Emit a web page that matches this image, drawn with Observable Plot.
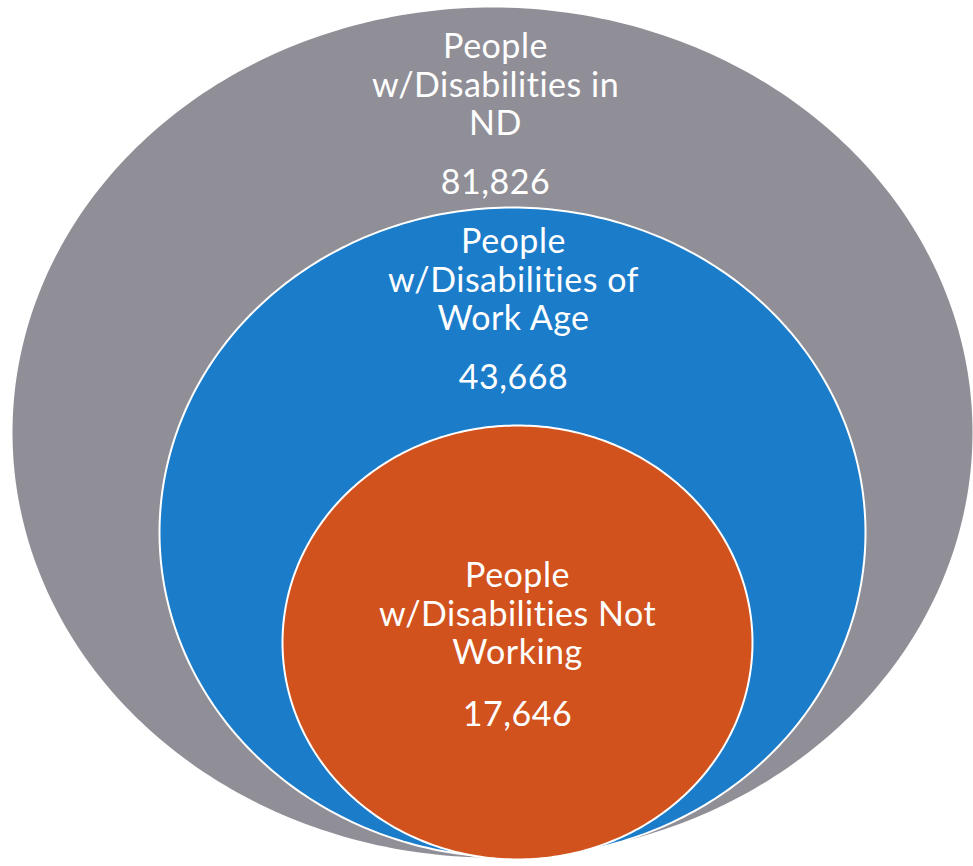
<!DOCTYPE html>
<html>
<head>
<meta charset="utf-8">
<script src="https://cdn.jsdelivr.net/npm/d3@7"></script>
<script src="https://cdn.jsdelivr.net/npm/@observablehq/plot@0.6"></script>
<style>
  html, body { margin: 0; padding: 0; background: #ffffff; }
  #chart svg { display: block; }
  #chart text { font-variant-ligatures: none; font-feature-settings: "liga" 0; letter-spacing: 0.5px; }
</style>
</head>
<body>
<div id="chart"></div>
<script>
// ---- data ----
const groups = ["People w/Disabilities in ND", "People w/Disabilities of Work Age", "People w/Disabilities Not Working"];
const labelLines = ["People\nw/Disabilities in\nND", "People\nw/Disabilities of\nWork Age", "People\nw/Disabilities Not\nWorking"];
const values = [81826, 43668, 17646];
const colors = ["#908f97", "#1b7cca", "#d1521d"];

// ---- layout (diagram geometry, in page pixels) ----
const W = 973, H = 866;
const shapes = [
  {cx: 492, cy: 432, rx: 480, ry: 425, outline: "none"},
  {cx: 512, cy: 532, rx: 353, ry: 325, outline: "#ffffff"},
  {cx: 517, cy: 642, rx: 235, ry: 217, outline: "#ffffff"}
];
const labelPos = [
  {x: 495, y: 84, vy: 183},
  {x: 513, y: 279, vy: 378},
  {x: 517, y: 613, vy: 715}
];

function ellipsePoints(s, i) {
  return d3.range(0, 360, 1).map(a => {
    const t = a * Math.PI / 180;
    return {g: i, x: s.cx + s.rx * Math.cos(t), y: s.cy + s.ry * Math.sin(t)};
  });
}

const fmt = d3.format(",");
const marks = [];
shapes.forEach((s, i) => {
  marks.push(Plot.line(ellipsePoints(s, i), {
    x: "x", y: "y", curve: "linear-closed",
    fill: colors[i], stroke: s.outline, strokeWidth: 2
  }));
});
const labels = groups.map((g, i) => ({name: labelLines[i], value: fmt(values[i]), ...labelPos[i]}));
marks.push(Plot.text(labels, {
  x: "x", y: "y", text: "name", fill: "#ffffff",
  fontSize: 34, lineHeight: 1.13, textAnchor: "middle", lineAnchor: "middle"
}));
marks.push(Plot.text(labels, {
  x: "x", y: "vy", text: "value", fill: "#ffffff",
  fontSize: 34, textAnchor: "middle", lineAnchor: "middle"
}));

const chart = Plot.plot({
  width: W, height: H,
  margin: 0,
  x: {domain: [0, W], range: [0, W], axis: null},
  y: {domain: [0, H], range: [0, H], axis: null},
  style: {fontFamily: "Lato, 'Open Sans', sans-serif", background: "#ffffff"},
  marks
});
document.getElementById("chart").appendChild(chart);
</script>
</body>
</html>
